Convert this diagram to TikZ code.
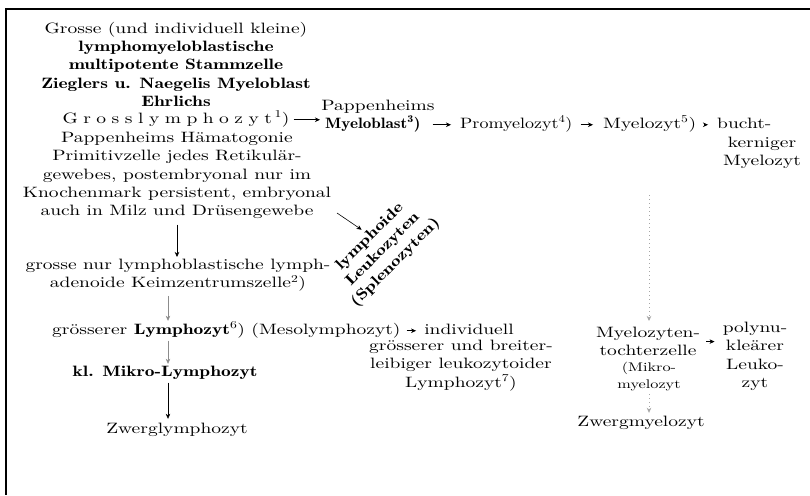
\documentclass[tikz,border=0pt]{standalone}
\usepackage{fontspec}
\setmainfont{lmroman10-regular.otf}[BoldFont=lmromandemi10-regular.otf, FakeStretch=1.3]
\newfontfamily\narrowrm{lmroman10-regular.otf}[BoldFont=lmromandemi10-regular.otf, FakeStretch=1.2]
\newfontfamily\midrm{lmroman10-regular.otf}[BoldFont=lmromandemi10-regular.otf, FakeStretch=1.14]
\usetikzlibrary{arrows.meta}
\newcommand\lsp{\hspace{5.5pt}}
\begin{document}
\begin{tikzpicture}[x=1pt,y=-1pt,
  every node/.style={inner sep=0pt, font=\fontsize{15}{18.2}\selectfont},
  txt/.style={anchor=base, text height=10pt, text depth=3.5pt},
  txtw/.style={txt, anchor=base west},
  blk/.style={align=center, anchor=north},
  small/.style={font=\fontsize{12.5}{17}\selectfont},
  arr/.style={-{Stealth[length=5pt,width=4.5pt,inset=1.5pt]}, line width=0.6pt},
  faint/.style={arr, draw=black!45},
  dotarr/.style={-{Stealth[length=5pt,width=4.5pt,inset=1.5pt]}, line width=0.7pt,
    draw=black!35, dash pattern=on 1pt off 3pt},
  ]
  \useasboundingbox (0,0) rectangle (810,495);
  % frame
  \draw[line width=2.2pt] (810,9) -- (6,9) -- (6,495);

  % left column: stem cell
  \node[blk] (top) at (176,22) {Grosse (und individuell kleine)\\
    \textbf{lymphomyeloblastische}\\
    \textbf{multipotente Stammzelle}\\
    \textbf{Zieglers u. Naegelis Myeloblast}\\
    \textbf{Ehrlichs}};
  \node[txt] (gl) at (176,123) {G\lsp r\lsp o\lsp s\lsp s\lsp l\lsp y\lsp m\lsp p\lsp h\lsp o\lsp z\lsp y\lsp t\,\textsuperscript{1})};
  \node[blk] (bot) at (177,132) {Pappenheims Hämatogonie\\
    Primitivzelle jedes Retikulär-\\
    gewebes, postembryonal nur im\\
    Knochenmark persistent, embryonal\\
    auch in Milz und Drüsengewebe};

  % myeloid row
  \node[txt] (pap) at (378,110) {Pappenheims};
  \node[txtw, font=\midrm\fontsize{15}{18.2}\selectfont] (myb) at (325,128) {\textbf{Myeloblast\textsuperscript{3})}};
  \node[txtw, font=\narrowrm\fontsize{15}{18.2}\selectfont] (pro) at (460,128) {Promyelozyt\textsuperscript{4})};
  \node[txtw] (myz) at (603,128) {Myelozyt\textsuperscript{5})};
  \node[txtw] (bu1) at (717,128) {bucht-};
  \node[blk] (bu2) at (762,137) {kerniger\\Myelozyt};

  % lymphoid branch
  \node[blk, rotate=45, anchor=center, font=\bfseries\fontsize{15}{18.2}\selectfont]
    (leuk) at (383,250) {lymphoide\\Leukozyten\\(Splenozyten)};
  \node[blk] (lym) at (178,259) {grosse nur lymphoblastische lymph-\\
    adenoide Keimzentrumszelle\textsuperscript{2})};
  \node[txtw] (grl) at (52,334) {grösserer \textbf{Lymphozyt}\textsuperscript{6}) (Mesolymphozyt)};
  \node[txt] (ind1) at (469,334) {individuell};
  \node[blk] (ind2) at (461,340) {grösserer und breiter-\\
    leibiger leukozytoider\\Lymphozyt\textsuperscript{7})};
  \node[txt] (klm) at (165,376) {\textbf{kl. Mikro-Lymphozyt}};
  \node[txt] (zwl) at (177,433) {Zwerglymphozyt};

  % myelocyte daughters
  \node[blk] (myt) at (648,327) {Myelozyten-\\tochterzelle};
  \node[blk, small] (mik) at (649,362) {(Mikro-\\myelozyt};
  \node[txt] (zwm) at (641,426) {Zwergmyelozyt};
  \node[blk] (pol) at (755,322) {polynu-\\kleärer\\Leuko-\\zyt};

  % connectors
  \coordinate (ax) at (168,0);
  \coordinate (dstart) at (337,213);
  \coordinate (dtop) at (649,195);
  \draw[arr, shorten <=4pt, shorten >=5pt] (gl.east) -- (gl.east -| myb.west);
  \draw[arr, shorten <=12pt, shorten >=9pt] (myb.east) -- (pro.west);
  \draw[arr, shorten <=8pt, shorten >=10pt] (pro.east) -- (myz.west);
  \draw[arr, shorten <=8pt, shorten >=9pt] (myz.east) -- (bu1.west);
  \draw[arr, shorten <=6pt, shorten >=2pt] (bot.south) -- (bot.south |- lym.north);
  \draw[faint, shorten <=4pt, shorten >=3pt] (lym.south -| ax) -- (grl.north -| ax);
  \draw[faint, shorten <=3pt, shorten >=2pt] (grl.south -| ax) -- (klm.north -| ax);
  \draw[arr, shorten <=3pt, shorten >=4pt] (klm.south -| ax) -- (zwl.north -| ax);
  \draw[arr, shorten >=4pt] (dstart) -- (leuk.north);
  \draw[arr, shorten <=6pt, shorten >=8pt] (grl.east) -- (ind1.west);
  \draw[dotarr, shorten >=6pt] (dtop) -- (dtop |- myt.north);
  \draw[dotarr, shorten <=3pt, shorten >=3pt] (mik.south) -- (mik.south |- zwm.north);
  \draw[arr, shorten <=6pt, shorten >=8pt] (myt.east) -- (myt.east -| pol.west);
\end{tikzpicture}
\end{document}
